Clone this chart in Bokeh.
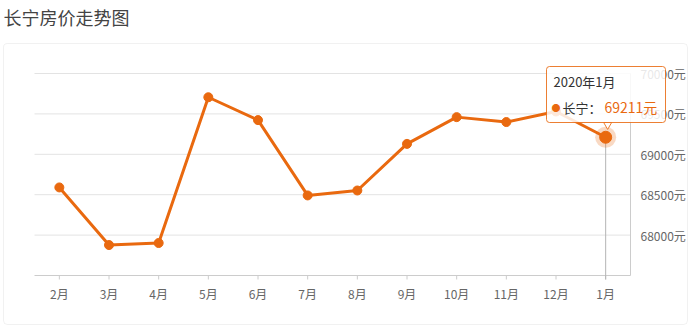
from bokeh.plotting import figure
from bokeh.models import Range1d, BoxAnnotation, Label, ColumnDataSource
from bokeh.embed import file_html
from bokeh.resources import INLINE
from bokeh.core.properties import value

# ---- data ----
chart_title = "长宁房价走势图"
series_name = "长宁"
months = ["2月", "3月", "4月", "5月", "6月", "7月", "8月", "9月", "10月", "11月", "12月", "1月"]
prices = [68590, 67877, 67902, 69706, 69423, 68491, 68552, 69129, 69460, 69399, 69530, 69211]
y_ticks = [68000, 68500, 69000, 69500, 70000]
y_min, y_max = 67500, 70000
tip_period = "2020年1月"

# ---- layout (pixels) ----
W, H = 691, 328
PL, PR, PT, PB = 34, 630, 73, 275   # plot area edges
TIP_L, TIP_R, TIP_T, TIP_B = 546, 665, 66, 122
ORANGE = "#e9690f"
FONT = "Noto Sans CJK SC"

N = len(months)
ux = (PR - PL) / N                      # px per category
uy = (PB - PT) / (y_max - y_min)        # px per value unit
xs = [i + 0.5 for i in range(N)]

p = figure(width=W, height=H,
           x_range=Range1d(-PL / ux, N + (W - PR) / ux),
           y_range=Range1d(y_min - (H - PB) / uy, y_max + PT / uy),
           output_backend="svg", toolbar_location=None,
           min_border=0, x_axis_location=None, y_axis_location=None)
p.title.visible = False
p.outline_line_color = None
p.grid.visible = False
p.background_fill_color = "white"
p.border_fill_color = "white"

# card border
p.add_layout(BoxAnnotation(left=3, right=687, top=43, bottom=324,
                           left_units="canvas", right_units="canvas",
                           top_units="canvas", bottom_units="canvas",
                           fill_alpha=0, line_color="#d2d2d2", line_width=1,
                           border_radius=4, level="underlay"))

# title
p.add_layout(Label(x=3, y=16, x_units="canvas", y_units="canvas", text=chart_title,
                   text_font=FONT, text_font_size="18px", text_color="#444444",
                   text_baseline="middle"))

# horizontal grid lines
p.segment(x0=[0] * len(y_ticks), x1=[N] * len(y_ticks), y0=y_ticks, y1=y_ticks,
          line_color="#e3e3e3", line_width=1)
# value axis line (right)
p.segment(x0=[N], x1=[N], y0=[y_min], y1=[y_max], line_color="#cccccc", line_width=1)
# category axis line + ticks
p.segment(x0=[0], x1=[N], y0=[y_min], y1=[y_min], line_color="#cccccc", line_width=1)
p.segment(x0=xs, x1=xs, y0=[y_min] * N, y1=[y_min - 4 / uy] * N,
          line_color="#cccccc", line_width=1)

# tick labels
p.text(x=xs, y=[y_min] * N, text=months, y_offset=9,
       text_font=value(FONT), text_font_size="12px", text_color="#666666",
       text_align="center", text_baseline="top")
p.text(x=[N] * len(y_ticks), y=y_ticks, text=[f"{t}元" for t in y_ticks], x_offset=10,
       text_font=value(FONT), text_font_size="12px", text_color="#666666",
       text_align="left", text_baseline="middle")

src = ColumnDataSource(dict(x=xs, v=prices))

# crosshair at last point
p.segment(x0=[xs[-1]], y0=[prices[-1]], x1=[xs[-1]], y1=[y_min - 4 / uy],
          line_color="#b5b5b5", line_width=1)

p.line("x", "v", source=src, line_color=ORANGE, line_width=3)
p.scatter("x", "v", source=src, size=9, fill_color=ORANGE, line_color=ORANGE)

# highlighted last point
p.scatter([xs[-1]], [prices[-1]], size=21, fill_color=ORANGE, fill_alpha=0.25, line_color=None)
p.scatter([xs[-1]], [prices[-1]], size=12, fill_color=ORANGE, line_color=ORANGE)

# tooltip box
p.add_layout(BoxAnnotation(left=TIP_L, right=TIP_R, top=TIP_T, bottom=TIP_B,
                           left_units="canvas", right_units="canvas",
                           top_units="canvas", bottom_units="canvas",
                           fill_color="white", fill_alpha=0.85,
                           line_color=ORANGE, line_width=1, line_alpha=0.85,
                           border_radius=3, level="overlay"))
# tooltip pointer (small notch under the box)
p.scatter([xs[-1] + 2 / ux], [y_max - (TIP_B + 2.3 - PT) / uy], marker="inverted_triangle",
          size=8, fill_color="white", fill_alpha=0.9, line_color=ORANGE, line_alpha=0.85,
          level="overlay")
p.add_layout(Label(x=553, y=81, x_units="canvas", y_units="canvas", text=tip_period,
                   text_font=FONT, text_font_size="13px", text_color="#333333",
                   text_baseline="middle", level="overlay"))
p.add_layout(Label(x=551, y=107, x_units="canvas", y_units="canvas", text="●",
                   text_font=FONT, text_font_size="9px", text_color=ORANGE,
                   text_baseline="middle", level="overlay"))
p.add_layout(Label(x=562, y=107, x_units="canvas", y_units="canvas", text=series_name + "：",
                   text_font=FONT, text_font_size="13px", text_color="#333333",
                   text_baseline="middle", level="overlay"))
p.add_layout(Label(x=604, y=106, x_units="canvas", y_units="canvas", text=f"{prices[-1]}元",
                   text_font=FONT, text_font_size="14px", text_color=ORANGE,
                   text_baseline="middle", level="overlay"))

open("out.html", "w").write(file_html(p, INLINE))
